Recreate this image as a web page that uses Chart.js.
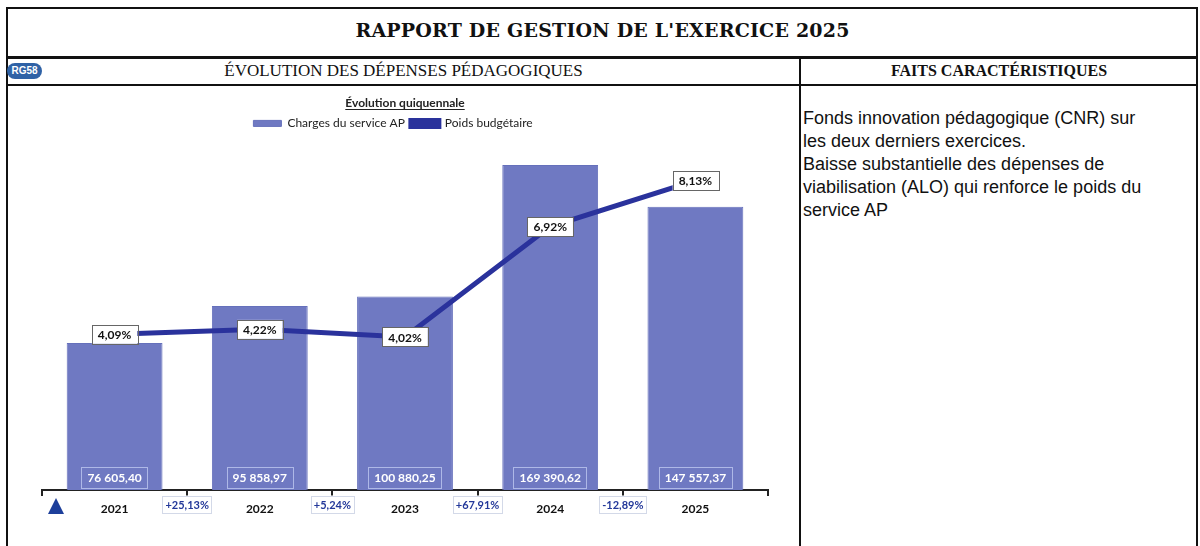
<!DOCTYPE html>
<html>
<head>
<meta charset="utf-8">
<script src="https://cdn.jsdelivr.net/npm/chart.js@4/dist/chart.umd.min.js"></script>
<style>
  body { margin: 0; width: 1200px; height: 546px; background: #fff; position: relative; overflow: hidden; font-family: "Liberation Sans", Arial, sans-serif; }
  .ln { position: absolute; background: #111; }
  #title { position: absolute; left: 8px; width: 1189px; top: 19px; text-align: center; font: bold 19px "DejaVu Serif", serif; color: #111; letter-spacing: 0.2px; }
  .head { position: absolute; top: 61px; text-align: center; font: 17px "Liberation Serif", serif; color: #111; }
  #badge { position: absolute; left: 7px; top: 63px; width: 35px; height: 16px; border-radius: 9px; background: #2f62a6; color: #fff; font: bold 10px "Liberation Sans Narrow", "Liberation Sans", sans-serif; line-height: 16px; text-align: center; }
  #faits { position: absolute; left: 803px; top: 107px; font: 18px "Liberation Sans", Arial, sans-serif; line-height: 23px; color: #111; }
  #wrap { position: absolute; left: 8px; top: 86px; width: 790px; height: 460px; }
</style>
</head>
<body>
<div class="ln" style="left:6px;top:7px;width:2px;height:539px"></div>
<div class="ln" style="left:1196px;top:7px;width:2px;height:539px"></div>
<div class="ln" style="left:6px;top:7px;width:1192px;height:2px"></div>
<div class="ln" style="left:6px;top:56px;width:1192px;height:3px"></div>
<div class="ln" style="left:6px;top:84px;width:1192px;height:2px"></div>
<div class="ln" style="left:799px;top:57px;width:2px;height:489px"></div>

<div id="title">RAPPORT DE GESTION DE L'EXERCICE 2025</div>
<div id="badge">RG58</div>
<div class="head" style="left:8px;width:791px">ÉVOLUTION DES DÉPENSES PÉDAGOGIQUES</div>
<div class="head" style="left:801px;width:396px;font-weight:bold;font-size:16px;top:62px">FAITS CARACTÉRISTIQUES</div>
<div id="faits">Fonds innovation pédagogique (CNR) sur<br>les deux derniers exercices.<br>Baisse substantielle des dépenses de<br>viabilisation (ALO) qui renforce le poids du<br>service AP</div>

<div id="wrap"><canvas id="chart"></canvas></div>

<script>
// données
const years = ["2021", "2022", "2023", "2024", "2025"];
const charges = [76605.40, 95858.97, 100880.25, 169390.62, 147557.37];
const poids = [4.09, 4.22, 4.02, 6.92, 8.13];
const evolution = ["+25,13%", "+5,24%", "+67,91%", "-12,89%"];

const barColor = "#6f79c2";
const lineColor = "#2a329c";
const font = "Lato, 'Open Sans', sans-serif";

function fr(v, d) {
	const parts = v.toFixed(d).split(".");
	return parts[0].replace(/\B(?=(\d{3})+(?!\d))/g, " ") + (parts[1] ? "," + parts[1] : "");
}

function box(ctx, x, y, text, fill, stroke, color, padX, h) {
	const w = ctx.measureText(text).width + padX * 2;
	if (fill) {
		ctx.fillStyle = fill;
		ctx.fillRect(x - w / 2, y - h / 2, w, h);
	}
	ctx.strokeStyle = stroke;
	ctx.lineWidth = 1;
	ctx.strokeRect(Math.round(x - w / 2) + 0.5, Math.round(y - h / 2) + 0.5, Math.round(w), h);
	ctx.fillStyle = color;
	ctx.fillText(text, x, y + 1);
}

// étiquettes, souligné du titre, triangle
const labels = {
	id: "labels",
	afterDatasetsDraw(chart) {
		const ctx = chart.ctx;
		const x = chart.scales.x, y = chart.scales.y, y1 = chart.scales.y1;
		ctx.save();
		ctx.textAlign = "center";
		ctx.textBaseline = "middle";
		ctx.font = "bold 12px " + font;
		charges.forEach((v, i) => {
			box(ctx, x.getPixelForValue(i), y.getPixelForValue(0) - 13, fr(v, 2), null, "rgba(190,200,240,0.8)", "#fff", 6, 21);
		});
		poids.forEach((v, i) => {
			box(ctx, x.getPixelForValue(i), y1.getPixelForValue(v), fr(v, 2) + "%", "#fff", "#666", "#111", 6, 19);
		});
		ctx.font = "bold 11px " + font;
		evolution.forEach((t, i) => {
			const px = (x.getPixelForValue(i) + x.getPixelForValue(i + 1)) / 2;
			box(ctx, px, x.top + 14, t, "#fff", "#d3d9e8", "#23389a", 3, 17);
		});
		// triangle
		const tx = chart.chartArea.left + 14, ty = x.top + 16;
		ctx.fillStyle = "#1d3f9b";
		ctx.beginPath();
		ctx.moveTo(tx, ty - 8);
		ctx.lineTo(tx + 8, ty + 8);
		ctx.lineTo(tx - 8, ty + 8);
		ctx.closePath();
		ctx.fill();
		// souligné du titre
		const tb = chart.titleBlock;
		if (tb) {
			ctx.font = "bold 12px " + font;
			const w = ctx.measureText(chart.options.plugins.title.text).width;
			const cx = (tb.left + tb.right) / 2;
			const ly = tb.top + tb.options.padding.top + 13;
			ctx.strokeStyle = "#222";
			ctx.lineWidth = 1;
			ctx.beginPath();
			ctx.moveTo(cx - w / 2, ly + 0.5);
			ctx.lineTo(cx + w / 2, ly + 0.5);
			ctx.stroke();
		}
		ctx.restore();
	}
};

// un peu d'espace sous la légende, et légende décalée à gauche
const legendGap = {
	id: "legendGap",
	beforeInit(chart) {
		const fit = chart.legend.fit;
		chart.legend.fit = function () {
			fit.bind(chart.legend)();
			this.height += 8;
		};
		const draw = chart.legend.draw;
		chart.legend.draw = function () {
			chart.ctx.save();
			chart.ctx.translate(-12, 0);
			draw.bind(chart.legend)();
			chart.ctx.restore();
		};
	}
};

new Chart(document.getElementById("chart"), {
	type: "bar",
	data: {
		labels: years,
		datasets: [
			{
				type: "line",
				label: "Poids budgétaire",
				data: poids,
				yAxisID: "y1",
				borderColor: lineColor,
				backgroundColor: lineColor,
				borderWidth: 5,
				pointRadius: 0,
				tension: 0,
				order: 0,
			},
			{
				label: "Charges du service AP",
				data: charges,
				yAxisID: "y",
				backgroundColor: barColor,
				borderColor: "#6570bb",
				borderWidth: 1,
				barPercentage: 0.66,
				categoryPercentage: 1,
				order: 1,
			},
		],
	},
	options: {
		responsive: true,
		maintainAspectRatio: false,
		animation: false,
		layout: { padding: { left: 34, right: 30, top: 5, bottom: 0 } },
		plugins: {
			title: {
				display: true,
				text: "Évolution quiquennale",
				color: "#222",
				font: { family: font, size: 12, weight: "bold" },
				padding: { top: 5, bottom: 1 },
			},
			legend: {
				display: true,
				reverse: true,
				labels: {
					color: "#222",
					font: { family: font, size: 12 },
					boxWidth: 28,
					boxHeight: 6,
					padding: 6,
				},
			},
			tooltip: { enabled: false },
		},
		scales: {
			x: {
				offset: true,
				border: { color: "#222", width: 2 },
				grid: { display: true, drawOnChartArea: false, drawTicks: true, tickLength: 6, color: "#222", lineWidth: 2 },
				ticks: { color: "#111", font: { family: font, size: 12, weight: "bold" }, padding: 6 },
				afterFit: (s) => { s.height = 56; },
			},
			y: { display: false, min: 0, max: 178500 },
			y1: { display: false, min: 0, max: 9.0 },
		},
	},
	plugins: [labels, legendGap],
});
</script>
</body>
</html>
